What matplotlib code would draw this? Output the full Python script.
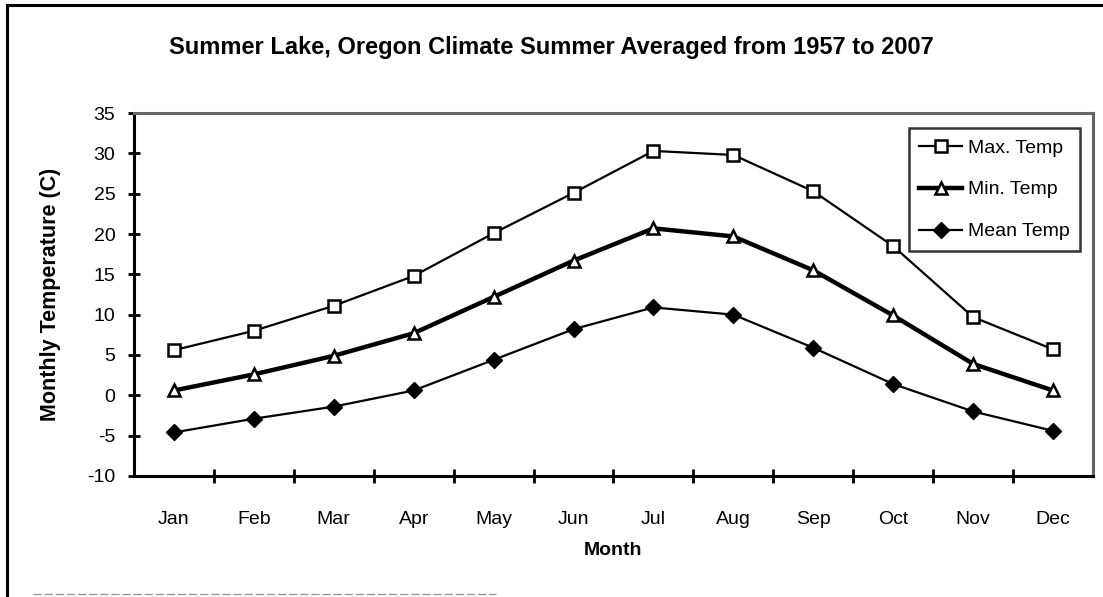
import matplotlib
matplotlib.use("Agg")
import matplotlib.pyplot as plt
from matplotlib.lines import Line2D

plt.rcParams['font.family'] = ['Liberation Sans', 'DejaVu Sans']
plt.rcParams['axes.unicode_minus'] = False

months = ['Jan', 'Feb', 'Mar', 'Apr', 'May', 'Jun',
          'Jul', 'Aug', 'Sep', 'Oct', 'Nov', 'Dec']
max_temp = [5.6, 8.0, 11.1, 14.8, 20.1, 25.1, 30.3, 29.8, 25.3, 18.5, 9.7, 5.7]
min_temp = [0.6, 2.6, 4.9, 7.7, 12.2, 16.7, 20.7, 19.7, 15.5, 9.9, 3.9, 0.6]
mean_temp = [-4.6, -2.9, -1.4, 0.6, 4.4, 8.2, 10.9, 10.0, 5.9, 1.4, -2.0, -4.4]

fig = plt.figure(figsize=(11.03, 5.97), dpi=100)
ax = fig.add_axes([0.1215, 0.2027, 0.8694, 0.608])

x = list(range(len(months)))
ax.plot(x, max_temp, color='black', lw=1.6, marker='s', ms=9,
        mfc='white', mec='black', mew=1.8, label='Max. Temp')
ax.plot(x, min_temp, color='black', lw=3.2, marker='^', ms=9,
        mfc='white', mec='black', mew=1.8, label='Min. Temp')
ax.plot(x, mean_temp, color='black', lw=1.6, marker='D', ms=8,
        mfc='black', mec='black', label='Mean Temp')

ax.set_xlim(-0.5, 11.5)
ax.set_ylim(-10, 35)
ax.set_yticks(range(-10, 40, 5))
ax.tick_params(axis='y', direction='inout', length=9, width=2, labelsize=14, pad=9)

# ticks between categories, labels at category centres
ax.set_xticks([i + 0.5 for i in range(11)])
ax.set_xticklabels([])
ax.tick_params(axis='x', which='major', direction='inout', length=10, width=2)
ax.set_xticks(x, minor=True)
ax.set_xticklabels(months, minor=True)
ax.tick_params(axis='x', which='minor', length=0, labelsize=14, pad=25)

for s in ['left', 'bottom']:
    ax.spines[s].set_linewidth(2.2)
    ax.spines[s].set_color('black')
for s in ['top', 'right']:
    ax.spines[s].set_linewidth(2.2)
    ax.spines[s].set_color('#666666')

ax.set_xlabel('Month', fontsize=14, fontweight='bold', labelpad=10)
ax.set_ylabel('Monthly Temperature (C)', fontsize=15.5, fontweight='bold', labelpad=19)
fig.text(0.5, 0.92, 'Summer Lake, Oregon Climate Summer Averaged from 1957 to 2007',
         ha='center', va='center', fontsize=17, fontweight='bold')

leg = ax.legend(loc='upper right', bbox_to_anchor=(0.987, 0.958), fancybox=False,
                frameon=True, edgecolor='black', fontsize=14, labelspacing=1.25,
                handlelength=2.2, handletextpad=0.3, borderpad=0.55, borderaxespad=0)
leg.get_frame().set_linewidth(1.8)

# outer chart frame
fig.add_artist(Line2D([0.0063, 0.0063], [0.0, 0.9916], color='black', lw=2.2))
fig.add_artist(Line2D([0.0063, 1.0], [0.9916, 0.9916], color='black', lw=2.2))
fig.add_artist(Line2D([0.03, 0.45], [0.005, 0.005], color='#999999', lw=1, ls=(0, (6, 2))))

fig.savefig('out.png', dpi=100)
